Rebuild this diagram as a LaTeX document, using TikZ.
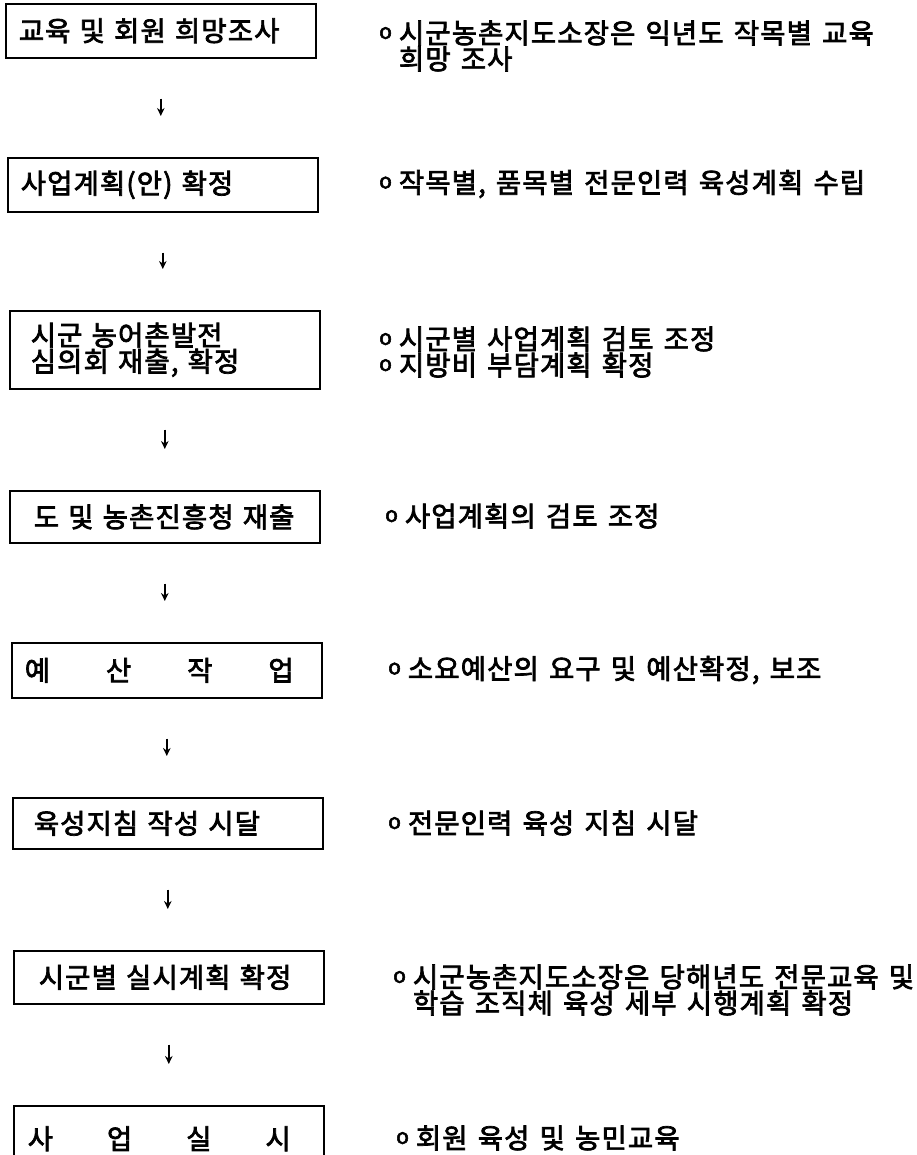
\documentclass[tikz,border=0pt]{standalone}
\usepackage{fontspec}
\setmainfont{Noto Sans CJK KR}[LetterSpace=4,WordSpace=1.4,FakeBold=2.6]
\usepackage{tikz}
\usetikzlibrary{arrows.meta}
\newcommand{\bul}{\raisebox{4.5pt}{\fontsize{21}{21}\selectfont o}\hspace{7pt}}

\begin{document}
\begin{tikzpicture}[x=1pt,y=-1pt,>={Stealth[length=8pt,width=7.5pt]},
  stepbox/.style={draw,line width=1.6pt,anchor=north west,inner xsep=13pt,
        text width=284pt,minimum height=54pt,align=left,
        font=\fontsize{27.5}{24}\selectfont},
  note/.style={anchor=west,inner sep=0pt,align=left,
        font=\fontsize{27.5}{24}\selectfont},
  flow/.style={->,line width=1.5pt,shorten <=40pt,shorten >=41pt}]
  \useasboundingbox (0,0) rectangle (917,1155);
  \fill[white] (0,0) rectangle (917,1155);
  \clip (0,0) rectangle (917,1155);
  % 교육 희망조사
  \node[stepbox] (B1) at (5,3) {교육 및 회원 희망조사};
  \node[note,font=\fontsize{27.5}{26}\selectfont] (N1) at (379,46)
        {\bul 시군농촌지도소장은 익년도 작목별 교육\\\hphantom{\bul}희망 조사};
  % 사업계획(안)
  \node[stepbox] (B2) at (7,157) {사업계획(안) 확정};
  \node[note] (N2) at (379,184) {\bul 작목별, 품목별 전문인력 육성계획 수립};
  % 심의회
  \node[stepbox,minimum height=78pt,inner xsep=21pt,text width=268pt] (B3) at (9,310)
        {시군 농어촌발전\\심의회 재출, 확정};
  \node[note] (N3) at (379,352) {\bul 시군별 사업계획 검토 조정\\\bul 지방비 부담계획 확정};
  % 도 및 농촌진흥청
  \node[stepbox,minimum height=52pt,inner xsep=24pt,text width=262pt] (B4) at (9,490)
        {도 및 농촌진흥청 재출};
  \node[note] (N4) at (385,516) {\bul 사업계획의 검토 조정};
  % 예산
  \node[stepbox,minimum height=55pt] (B5) at (11,642)
        {\makebox[269pt]{예\hfill 산\hfill 작\hfill 업}};
  \node[note] (N5) at (388,670) {\bul 소요예산의 요구 및 예산확정, 보조};
  % 육성지침
  \node[stepbox,minimum height=51pt,inner xsep=21pt,text width=268pt] (B6) at (12,797)
        {육성지침 작성 시달};
  \node[note] (N6) at (388,823) {\bul 전문인력 육성 지침 시달};
  % 실시계획
  \node[stepbox,minimum height=53pt,inner xsep=25pt,text width=260pt] (B7) at (13,950)
        {시군별 실시계획 확정};
  \node[note] (N7) at (393,990)
        {\bul 시군농촌지도소장은 당해년도 전문교육 및\\\hphantom{\bul}학습 조직체 육성 세부 시행계획 확정};
  % 사업실시
  \node[stepbox,minimum height=66pt,inner xsep=14pt,text width=282pt] (B8) at (13,1105)
        {\makebox[263pt]{사\hfill 업\hfill 실\hfill 시}};
  \node[note] (N8) at (396,1138) {\bul 회원 육성 및 농민교육};
  % 화살표
  \draw[flow] (B1.south) -- (B1.south |- B2.north);
  \draw[flow] (B2.south) -- (B2.south |- B3.north);
  \draw[flow] (B3.south) -- (B3.south |- B4.north);
  \draw[flow] (B4.south) -- (B4.south |- B5.north);
  \draw[flow] (B5.south) -- (B5.south |- B6.north);
  \draw[flow] (B6.south) -- (B6.south |- B7.north);
  \draw[flow] (B7.south) -- (B7.south |- B8.north);
\end{tikzpicture}
\end{document}
